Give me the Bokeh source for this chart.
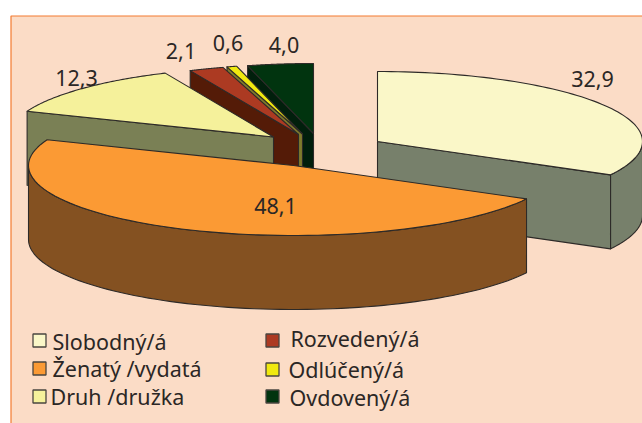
import math
from bokeh.plotting import figure
from bokeh.models import Range1d
from bokeh.core.properties import value
from bokeh.embed import file_html
from bokeh.resources import INLINE

# Data
categories = ["Slobodný/á", "Ženatý /vydatá", "Druh /družka", "Rozvedený/á", "Odlúčený/á", "Ovdovený/á"]
shares = [32.9, 48.1, 12.3, 2.1, 0.6, 4.0]

# Styles
top_colors = ["#FAF7C8", "#FB9A34", "#F5F19B", "#AC3A22", "#F0E90F", "#01340F"]
side_colors = ["#77806B", "#845121", "#7A8055", "#541B07", "#7F7A2C", "#011F0C"]
STROKE = "#2D2A28"
PANEL = "#FBDCC6"
PANEL_LINE = "#F47B30"
TEXT = "#2B2725"
FONT = "Noto Sans"
FONT_SIZE = "21.5px"
TEXT_SHIFT = -8

# Layout of the exploded oblique pie
RX, RY, DEPTH = 265, 70, 74
centers = [(377, 141), (293, 165), (273, 136.5), (298, 134), (302, 133.5), (313, 133)]
label_pos = [(592, 86), (275, 213), (76, 85), (180.5, 58), (227.5, 50), (283.5, 52)]
legend_box = [(32, 333), (32, 361), (32, 389), (265, 333), (265, 362), (265, 389)]
legend_text = [(52, 349), (52, 376), (50, 404), (290, 346), (288, 377), (289, 405)]

W, H = 642, 423
p = figure(width=W, height=H, output_backend="svg", toolbar_location=None,
           x_range=Range1d(0, W), y_range=Range1d(H, 0),
           min_border=0)
p.axis.visible = False
p.grid.visible = False
p.outline_line_color = None
p.background_fill_color = "white"
p.border_fill_color = "white"

# Panel
p.quad(left=[10.5], right=[700], top=[15.5], bottom=[480],
       fill_color=PANEL, line_color=PANEL_LINE, line_width=1.2)

# Slice angles (clockwise from 12 o'clock)
total = sum(shares)
starts, ends = [], []
acc = 0.0
for v in shares:
    starts.append(acc / total * 360)
    acc += v
    ends.append(acc / total * 360)


def pt(c, deg, dz=0):
    r = math.radians(deg)
    return c[0] + RX * math.sin(r), c[1] - RY * math.cos(r) + dz


def arc(c, a0, a1, dz=0, n=80):
    return [pt(c, a0 + (a1 - a0) * k / n, dz) for k in range(n + 1)]


def draw(points, color):
    p.patch([q[0] for q in points], [q[1] for q in points], fill_color=color,
            line_color=STROKE, line_width=1.1, line_join="round")


def edge_wall(i, deg):
    c = centers[i]
    e = pt(c, deg)
    draw([c, e, (e[0], e[1] + DEPTH), (c[0], c[1] + DEPTH)], side_colors[i])


def rim_wall(i, a0, a1):
    c = centers[i]
    draw(arc(c, a0, a1) + arc(c, a1, a0, DEPTH), side_colors[i])


def top_face(i):
    c = centers[i]
    draw([c] + arc(c, starts[i], ends[i]), top_colors[i])


# Slobodný: the far-right piece
rim_wall(0, 90, ends[0])
edge_wall(0, ends[0])
top_face(0)

# Back slices, drawn from the rear to the front
for i in (5, 4, 3, 2):
    edge_wall(i, starts[i])
    top_face(i)

# Ženatý: the front piece
rim_wall(1, ends[0], 270)
top_face(1)

# Value labels
for v, (x, y) in zip(shares, label_pos):
    p.text([x], [y + TEXT_SHIFT], text=[f"{v:.1f}".replace(".", ",")], text_font=value(FONT),
           text_font_size=FONT_SIZE, text_color=TEXT, text_align="center", text_baseline="alphabetic")

# Legend
for i, name in enumerate(categories):
    bx, by = legend_box[i]
    p.quad(left=[bx + 0.5], right=[bx + 13.5], top=[by + 0.5], bottom=[by + 13.5],
           fill_color=top_colors[i], line_color="#4A4540", line_width=1.3)
    tx, ty = legend_text[i]
    p.text([tx], [ty + TEXT_SHIFT], text=[name], text_font=value(FONT), text_font_size=FONT_SIZE,
           text_color=TEXT, text_align="left", text_baseline="alphabetic")

open("out.html", "w").write(file_html(p, INLINE))
